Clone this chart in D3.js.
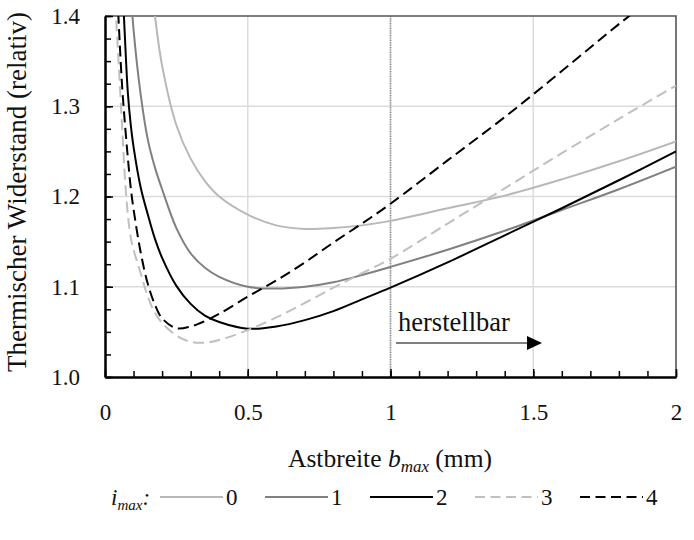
<!DOCTYPE html>
<html>
<head>
<meta charset="utf-8">
<script src="https://cdn.jsdelivr.net/npm/d3@7"></script>
<style>
  body { margin: 0; background: #fff; }
  svg text { font-family: "Liberation Serif", "DejaVu Serif", serif; }
</style>
</head>
<body>
<div id="chart"></div>
<script>
// Astbreite b_max (mm)
const bmax = [0.03, 0.04, 0.05, 0.06, 0.07, 0.08, 0.09, 0.1, 0.125, 0.15, 0.175, 0.2, 0.25, 0.3,
              0.35, 0.4, 0.5, 0.6, 0.7, 0.8, 0.9, 1.0, 1.2, 1.4, 1.6, 1.8, 2.0];
// thermischer Widerstand (relativ) je i_max
const r0 = [null, null, null, null, null, null, null, null, null, 1.47, 1.40, 1.345, 1.279, 1.242,
            1.217, 1.200, 1.180, 1.168, 1.164, 1.165, 1.168, 1.173, 1.187, 1.201, 1.219, 1.239, 1.261];
const r1 = [null, null, null, null, null, 1.50, 1.43, 1.385, 1.313, 1.263, 1.232, 1.208, 1.165, 1.137,
            1.121, 1.111, 1.100, 1.098, 1.100, 1.105, 1.113, 1.122, 1.141, 1.162, 1.185, 1.208, 1.233];
const r2 = [null, null, 1.60, 1.45, 1.375, 1.315, 1.28, 1.255, 1.21, 1.18, 1.153, 1.132, 1.101, 1.081,
            1.068, 1.061, 1.0535, 1.056, 1.063, 1.073, 1.086, 1.099, 1.127, 1.157, 1.187, 1.218, 1.250];
const r3 = [1.45, 1.392, 1.335, 1.277, 1.22, 1.18, 1.155, 1.141, 1.115, 1.089, 1.071, 1.060, 1.046, 1.039,
            1.038, 1.041, 1.052, 1.066, 1.082, 1.099, 1.115, 1.131, 1.170, 1.209, 1.248, 1.286, 1.323];
const r4 = [1.55, 1.45, 1.38, 1.322, 1.28, 1.243, 1.21, 1.186, 1.138, 1.103, 1.08, 1.065, 1.054, 1.056,
            1.062, 1.070, 1.089, 1.107, 1.127, 1.149, 1.170, 1.192, 1.240, 1.288, 1.339, 1.391, 1.44];

const seriesNames = ["0", "1", "2", "3", "4"];
const xTicks = [0, 0.5, 1, 1.5, 2];
const yTicks = [1.0, 1.1, 1.2, 1.3, 1.4];
const grenze = 1; // herstellbar ab 1 mm

const styles = [
  { color: "#b8b8b8", dash: null },
  { color: "#808080", dash: null },
  { color: "#000000", dash: null },
  { color: "#c0c0c0", dash: "11,5.5" },
  { color: "#000000", dash: "11,5.5" }
];

const serif = "'Liberation Serif', 'DejaVu Serif', serif";
const width = 694, height = 540;
const svg = d3.select("#chart").append("svg")
    .attr("width", width)
    .attr("height", height)
    .attr("font-family", serif);

const x = d3.scaleLinear().domain([0, 2]).range([105, 676]);
const y = d3.scaleLinear().domain([1.0, 1.4]).range([377, 16]);

svg.append("defs").append("clipPath").attr("id", "plot")
  .append("rect")
    .attr("x", x(0)).attr("y", y(1.4))
    .attr("width", x(2) - x(0)).attr("height", y(1.0) - y(1.4));

// gridlines
svg.append("g").selectAll("line")
    .data(xTicks.slice(1, -1))
  .enter().append("line")
    .attr("x1", d => x(d)).attr("x2", d => x(d))
    .attr("y1", y(1.0)).attr("y2", y(1.4))
    .style("stroke", "#dcdcdc").style("stroke-width", 1.5);
svg.append("g").selectAll("line")
    .data(yTicks.slice(1, -1))
  .enter().append("line")
    .attr("x1", x(0)).attr("x2", x(2))
    .attr("y1", d => y(d)).attr("y2", d => y(d))
    .style("stroke", "#dcdcdc").style("stroke-width", 1.5);

// dotted limit line
svg.append("line")
    .attr("x1", x(grenze)).attr("x2", x(grenze))
    .attr("y1", y(1.0)).attr("y2", y(1.4))
    .style("stroke", "#8a8a8a").style("stroke-width", 1.6)
    .style("stroke-dasharray", "1.2,1.2");

// frame top/right
svg.append("path")
    .attr("d", "M" + x(0) + "," + y(1.4) + "H" + x(2) + "V" + y(1.0))
    .style("fill", "none").style("stroke", "#555").style("stroke-width", 1.6);

// curves
const allSeries = [r0, r1, r2, r3, r4];
const line = d3.line()
    .defined(d => d[1] != null)
    .x(d => x(d[0]))
    .y(d => y(d[1]))
    .curve(d3.curveCatmullRom.alpha(0.5));

svg.append("g").attr("clip-path", "url(#plot)")
  .selectAll("path")
    .data(allSeries)
  .enter().append("path")
    .attr("d", vals => line(bmax.map((b, i) => [b, vals[i]])))
    .style("fill", "none")
    .style("stroke", (d, i) => styles[i].color)
    .style("stroke-width", 2)
    .style("stroke-dasharray", (d, i) => styles[i].dash);

// x axis: minor and major ticks
const xMinor = d3.axisBottom(x).tickValues(d3.range(0, 2.001, 0.1)).tickSize(-6).tickSizeOuter(0).tickFormat("");
const xMajor = d3.axisBottom(x).tickValues(xTicks).tickSize(-8).tickSizeOuter(0).tickPadding(27)
    .tickFormat(d => d3.format("")(d));
[xMinor, xMajor].forEach(ax => {
  const g = svg.append("g").attr("transform", "translate(0," + y(1.0) + ")").call(ax)
      .attr("font-family", serif);
  g.select(".domain").style("stroke", "#000").style("stroke-width", 2);
  g.selectAll(".tick line").style("stroke", "#000").style("stroke-width", 1.5);
  g.selectAll("text").style("font-size", "23px").style("fill", "#111");
});

const yMinor = d3.axisLeft(y).tickValues(d3.range(1.0, 1.4001, 0.025)).tickSize(-6).tickSizeOuter(0).tickFormat("");
const yMajor = d3.axisLeft(y).tickValues(yTicks).tickSize(-8).tickSizeOuter(0).tickPadding(25)
    .tickFormat(d3.format(".1f"));
[yMinor, yMajor].forEach(ax => {
  const g = svg.append("g").attr("transform", "translate(" + x(0) + ",0)").call(ax)
      .attr("font-family", serif);
  g.select(".domain").style("stroke", "#000").style("stroke-width", 2);
  g.selectAll(".tick line").style("stroke", "#000").style("stroke-width", 1.5);
  g.selectAll("text").style("font-size", "23px").style("fill", "#111");
});

// axis titles
const xt = svg.append("text")
    .attr("x", 390).attr("y", 467)
    .attr("text-anchor", "middle")
    .style("font-size", "25.5px").style("fill", "#111");
xt.append("tspan").text("Astbreite ");
xt.append("tspan").style("font-style", "italic").text("b");
xt.append("tspan").style("font-style", "italic").style("font-size", "17px").attr("dy", 5).text("max");
xt.append("tspan").attr("dy", -5).text(" (mm)");

svg.append("text")
    .attr("transform", "translate(26,192) rotate(-90)")
    .attr("text-anchor", "middle")
    .style("font-size", "27px").style("fill", "#111")
    .text("Thermischer Widerstand (relativ)");

// annotation
svg.append("text")
    .attr("x", 398).attr("y", 331)
    .style("font-size", "26.5px").style("fill", "#111")
    .text("herstellbar");
svg.append("line")
    .attr("x1", 396).attr("x2", 528)
    .attr("y1", 343).attr("y2", 343)
    .style("stroke", "#555").style("stroke-width", 1.3);
svg.append("path")
    .attr("d", "M527,336L542,343L527,350Z")
    .style("fill", "#000");

// legend
const ly = 497;
const lx = d3.scaleLinear().domain([0, 4]).range([160, 580]);
const lt = svg.append("text").attr("x", 111).attr("y", ly + 8)
    .style("font-size", "23px").style("fill", "#111").style("font-style", "italic");
lt.append("tspan").text("i");
lt.append("tspan").style("font-size", "15px").attr("dy", 5).text("max");
lt.append("tspan").attr("dy", -5).text(":");

const items = svg.append("g").selectAll("g")
    .data(seriesNames)
  .enter().append("g")
    .attr("transform", (d, i) => "translate(" + lx(i) + "," + ly + ")");
items.append("line")
    .attr("x1", 0).attr("x2", 63)
    .style("stroke", (d, i) => styles[i].color)
    .style("stroke-width", 2)
    .style("stroke-dasharray", (d, i) => styles[i].dash ? "10,5.5" : null);
items.append("text")
    .attr("x", 66).attr("y", 8)
    .style("font-size", "23px").style("fill", "#111")
    .text(d => d);
</script>
</body>
</html>
